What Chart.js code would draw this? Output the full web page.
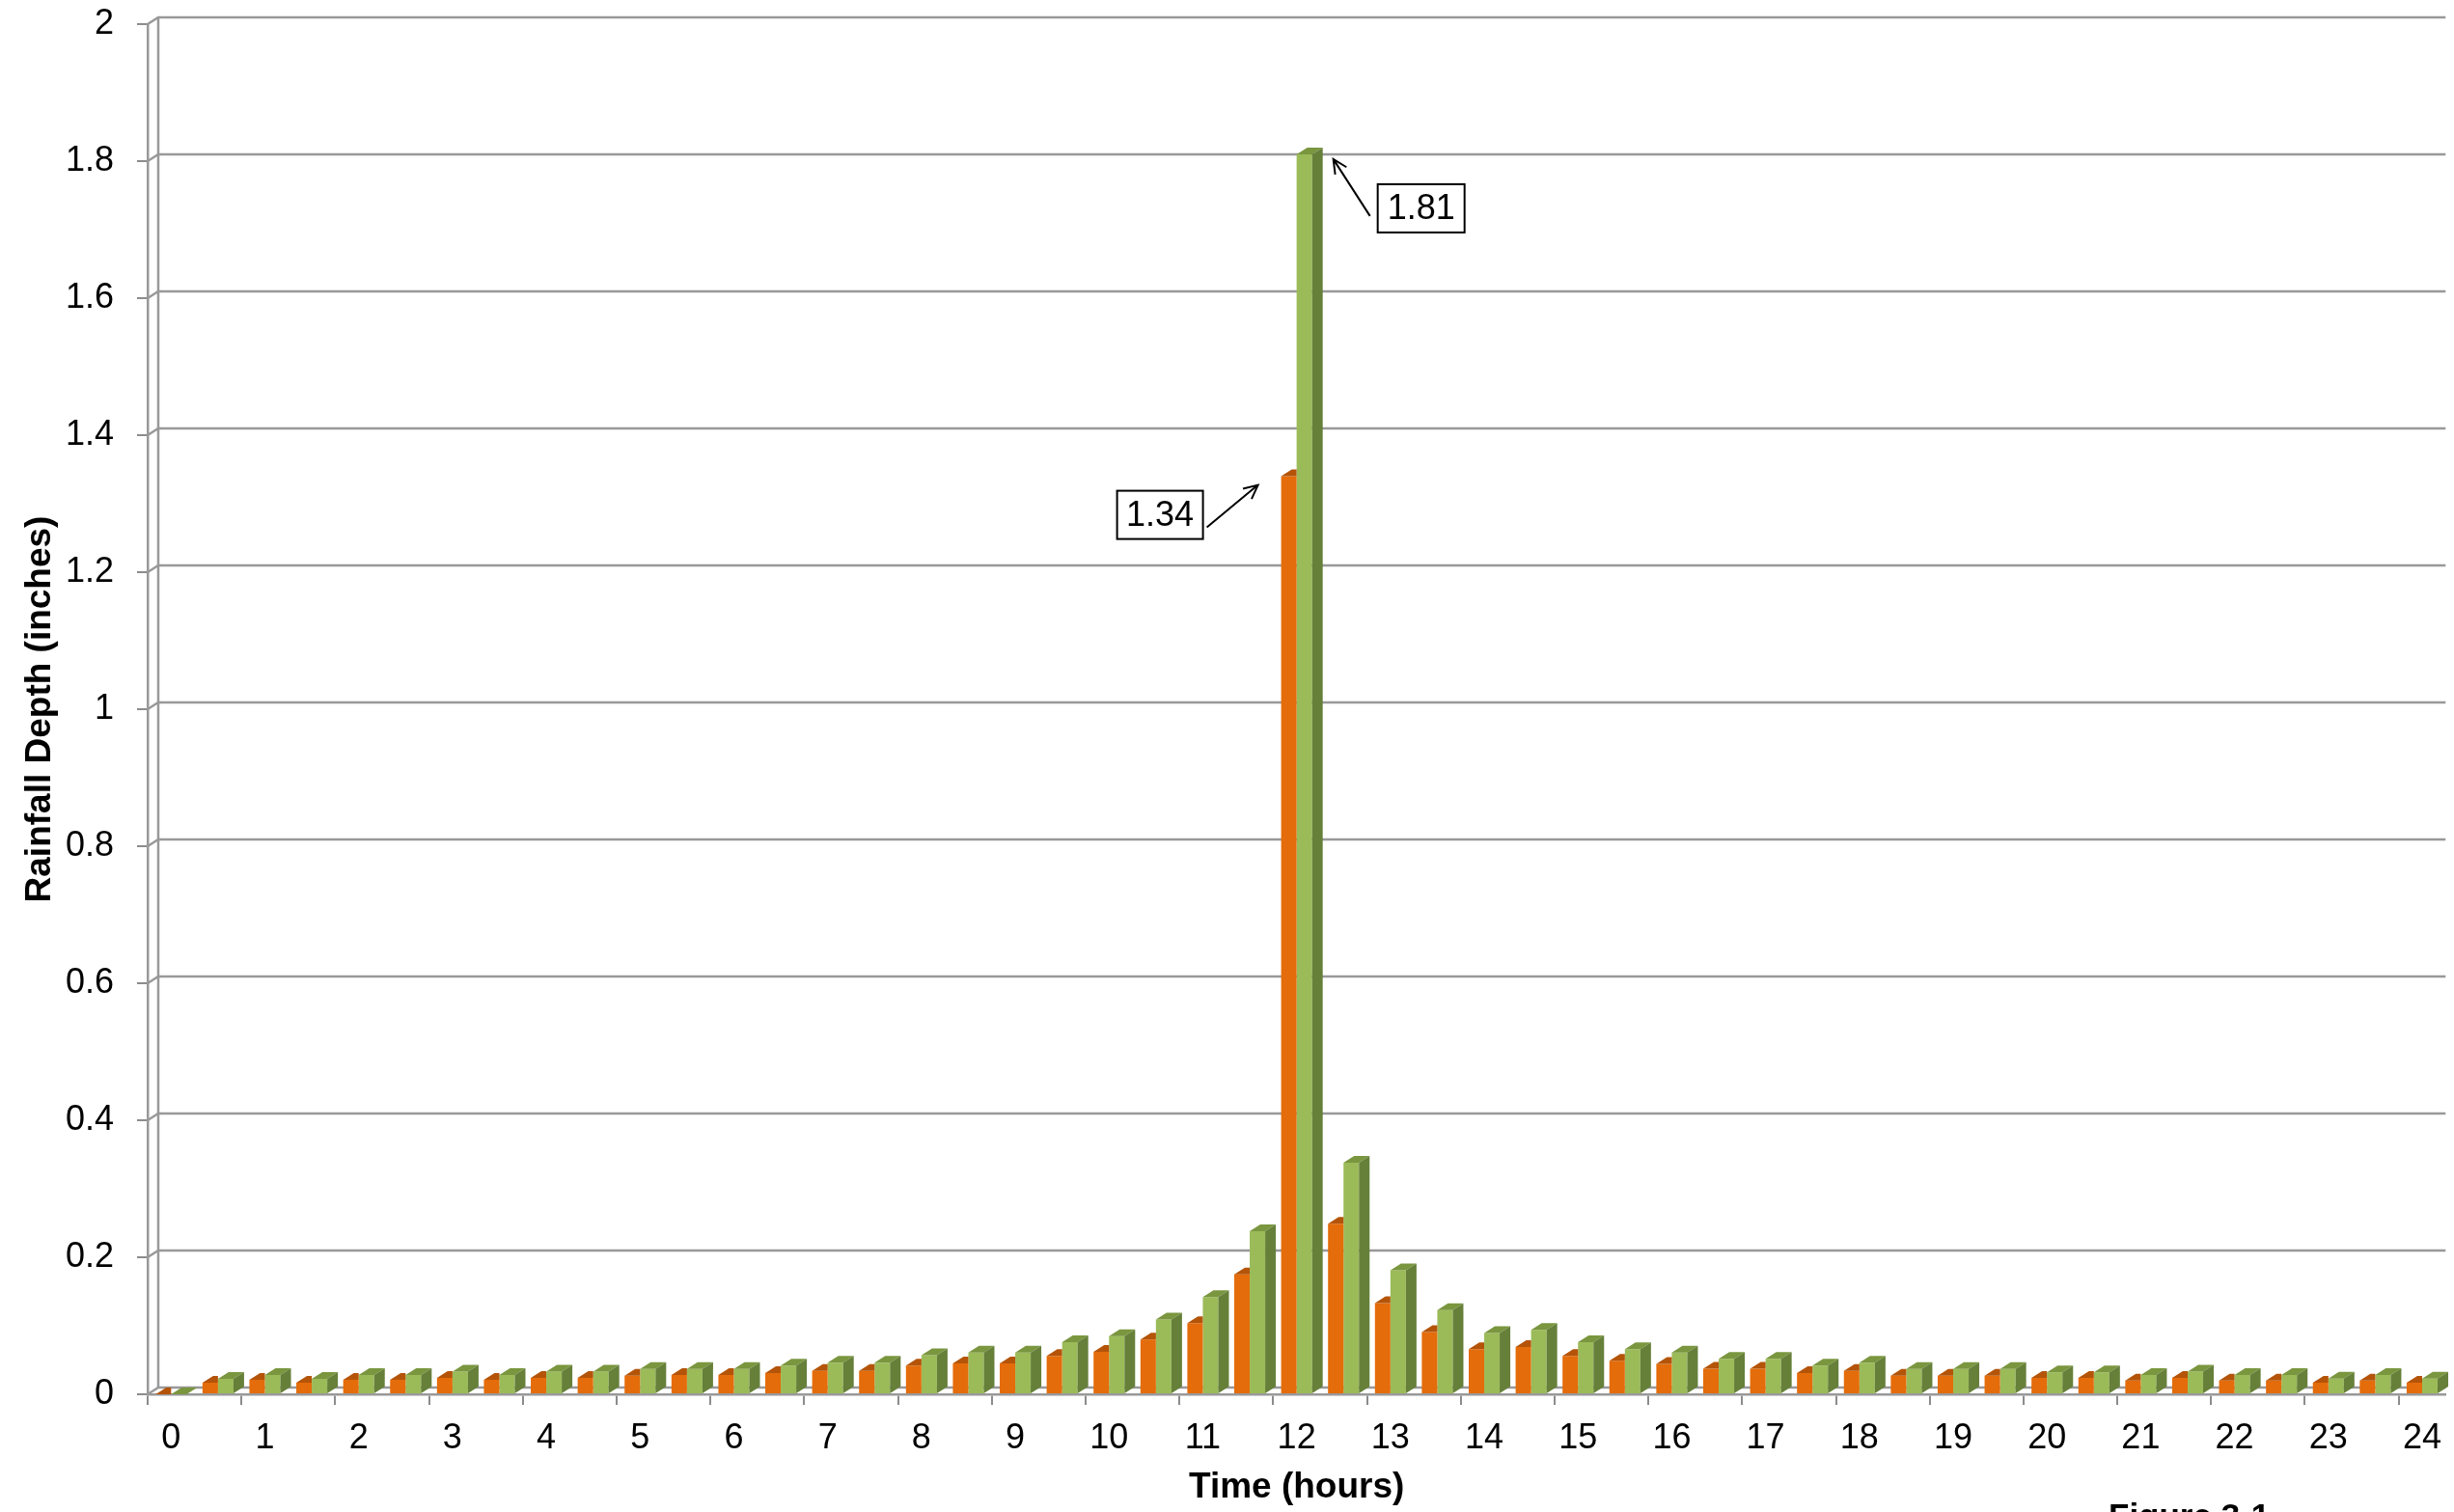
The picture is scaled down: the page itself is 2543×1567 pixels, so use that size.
<!DOCTYPE html>
<html lang="en">
<head>
<meta charset="UTF-8">
<title>Rainfall Depth</title>
<script src="https://cdn.jsdelivr.net/npm/chart.js@4.4.1/dist/chart.umd.min.js"></script>
<style>
    html, body { margin: 0; padding: 0; background: #fff; overflow: hidden; }
    #wrap { width: 2543px; height: 1567px; }
</style>
</head>
<body>
<div id="wrap"><canvas id="rainChart" width="2543" height="1567"></canvas></div>
<script>
    // half-hour steps, labelled on whole hours
    const hours = ['0','0.5','1','1.5','2','2.5','3','3.5','4','4.5','5','5.5','6','6.5','7','7.5',
        '8','8.5','9','9.5','10','10.5','11','11.5','12','12.5','13','13.5','14','14.5','15','15.5',
        '16','16.5','17','17.5','18','18.5','19','19.5','20','20.5','21','21.5','22','22.5','23','23.5','24'];

    const orangeDepth = [0, 0.017, 0.021, 0.017, 0.021, 0.021, 0.024, 0.021, 0.024, 0.024,
        0.027, 0.028, 0.028, 0.031, 0.034, 0.034, 0.042, 0.045, 0.045, 0.056,
        0.062, 0.080, 0.104, 0.175, 1.34, 0.249, 0.133, 0.091, 0.066, 0.069,
        0.056, 0.049, 0.0445, 0.0375, 0.0375, 0.031, 0.034, 0.027, 0.027, 0.027,
        0.024, 0.024, 0.020, 0.024, 0.020, 0.020, 0.017, 0.020, 0.017];

    const greenDepth = [0, 0.0225, 0.028, 0.0225, 0.028, 0.028, 0.033, 0.028, 0.033, 0.033,
        0.037, 0.037, 0.037, 0.042, 0.046, 0.046, 0.057, 0.061, 0.061, 0.076,
        0.085, 0.109, 0.142, 0.238, 1.81, 0.338, 0.181, 0.123, 0.0895, 0.094,
        0.076, 0.066, 0.061, 0.0516, 0.0516, 0.042, 0.046, 0.037, 0.037, 0.037,
        0.032, 0.032, 0.028, 0.033, 0.028, 0.028, 0.023, 0.028, 0.023];

    const yTicks = [0, 0.2, 0.4, 0.6, 0.8, 1, 1.2, 1.4, 1.6, 1.8, 2];

    const FONT = "'Liberation Sans', Arial, sans-serif";
    const GRID = '#999999';
    const DX = 11, DY = 7;   // fake 3d depth

    // back wall: gridlines pushed back, with a short diagonal to the front ticks
    const wallPlugin = {
        id: 'wall',
        beforeDatasetsDraw(chart) {
            const { ctx, chartArea: a, scales: { y } } = chart;
            ctx.save();
            ctx.strokeStyle = GRID;
            ctx.lineWidth = 2.5;
            y.ticks.forEach(t => {
                const py = y.getPixelForValue(t.value);
                ctx.beginPath();
                ctx.moveTo(a.left, py);
                ctx.lineTo(a.left + DX, py - DY);
                ctx.lineTo(a.right, py - DY);
                ctx.stroke();
            });
            ctx.beginPath();
            ctx.moveTo(a.left + DX, a.top - DY);
            ctx.lineTo(a.left + DX, a.bottom - DY);
            ctx.stroke();
            ctx.restore();
        }
    };

    // top and side faces of the bars
    const bar3dPlugin = {
        id: 'bar3d',
        afterDatasetsDraw(chart) {
            const ctx = chart.ctx;
            const faces = [
                { top: '#b45409', side: null },
                { top: '#7a963f', side: '#66803a' }
            ];
            chart.data.datasets.forEach((ds, di) => {
                const meta = chart.getDatasetMeta(di);
                meta.data.forEach(bar => {
                    const { x, y, base, width } = bar.getProps(['x', 'y', 'base', 'width'], true);
                    const l = x - width / 2, r = x + width / 2;
                    ctx.save();
                    ctx.fillStyle = faces[di].top;
                    ctx.beginPath();
                    ctx.moveTo(l, y);
                    ctx.lineTo(r, y);
                    if (faces[di].side) {
                        ctx.lineTo(r + DX, y - DY);
                    } else {
                        ctx.lineTo(r, y - DY);   // rest hidden behind the green bar
                    }
                    ctx.lineTo(l + DX, y - DY);
                    ctx.closePath();
                    ctx.fill();
                    if (faces[di].side) {
                        ctx.fillStyle = faces[di].side;
                        ctx.beginPath();
                        ctx.moveTo(r, y);
                        ctx.lineTo(r + DX, y - DY);
                        ctx.lineTo(r + DX, base - DY);
                        ctx.lineTo(r, base);
                        ctx.closePath();
                        ctx.fill();
                    }
                    ctx.restore();
                });
            });
        }
    };

    function arrow(ctx, x1, y1, x2, y2) {
        const ang = Math.atan2(y2 - y1, x2 - x1), h = 16;
        ctx.beginPath();
        ctx.moveTo(x1, y1);
        ctx.lineTo(x2, y2);
        ctx.moveTo(x2 - h * Math.cos(ang - 0.45), y2 - h * Math.sin(ang - 0.45));
        ctx.lineTo(x2, y2);
        ctx.lineTo(x2 - h * Math.cos(ang + 0.45), y2 - h * Math.sin(ang + 0.45));
        ctx.stroke();
    }

    function labelBox(ctx, x, y, w, h, text) {
        ctx.fillStyle = '#fff';
        ctx.fillRect(x, y, w, h);
        ctx.strokeRect(x, y, w, h);
        ctx.fillStyle = '#000';
        ctx.fillText(text, x + w / 2, y + h / 2 + 1);
    }

    // peak callouts + figure caption
    const calloutPlugin = {
        id: 'callouts',
        afterDraw(chart) {
            const ctx = chart.ctx;
            const peak = greenDepth.indexOf(Math.max(...greenDepth));
            const g = chart.getDatasetMeta(1).data[peak].getProps(['x', 'y', 'width'], true);
            const o = chart.getDatasetMeta(0).data[peak].getProps(['x', 'y', 'width'], true);
            ctx.save();
            ctx.strokeStyle = '#000';
            ctx.lineWidth = 2;
            ctx.font = '36px ' + FONT;
            ctx.textAlign = 'center';
            ctx.textBaseline = 'middle';

            const gr = g.x + g.width / 2;
            arrow(ctx, gr + 60, g.y + 64, gr + 22, g.y + 5);
            labelBox(ctx, gr + 68, g.y + 31, 90, 50, greenDepth[peak].toFixed(2));

            const ol = o.x - o.width / 2;
            arrow(ctx, ol - 77, o.y + 53, ol - 24, o.y + 9);
            labelBox(ctx, ol - 170, o.y + 15, 89, 50, orangeDepth[peak].toFixed(2));

            ctx.font = 'bold 35px ' + FONT;
            ctx.textAlign = 'left';
            ctx.textBaseline = 'alphabetic';
            ctx.fillText('Figure 3-1', 2185, 1583);
            ctx.restore();
        }
    };

    const ctx = document.getElementById('rainChart').getContext('2d');
    const rainChart = new Chart(ctx, {
        type: 'bar',
        data: {
            labels: hours,
            datasets: [
                {
                    label: 'Orange',
                    data: orangeDepth,
                    backgroundColor: '#e46c0a',
                    barPercentage: 1,
                    categoryPercentage: 0.66
                },
                {
                    label: 'Green',
                    data: greenDepth,
                    backgroundColor: '#9bbb59',
                    barPercentage: 1,
                    categoryPercentage: 0.66
                }
            ]
        },
        options: {
            responsive: false,
            animation: false,
            layout: { padding: { top: 25, right: 0, bottom: 0, left: 0 } },
            plugins: {
                legend: { display: false },
                tooltip: { enabled: false }
            },
            scales: {
                x: {
                    offset: true,
                    grid: {
                        offset: true,
                        drawOnChartArea: false,
                        tickLength: 11,
                        lineWidth: 2,
                        color: c => (c.index % 2 === 0 ? '#8c8c8c' : 'rgba(0,0,0,0)')
                    },
                    border: { display: true, color: GRID, width: 2.5 },
                    ticks: {
                        autoSkip: false,
                        maxRotation: 0,
                        padding: 13,
                        color: '#000',
                        font: { family: FONT, size: 36 },
                        callback: (v, i) => (hours[i].includes('.') ? '' : hours[i])
                    },
                    title: {
                        display: true,
                        text: 'Time (hours)',
                        color: '#000',
                        font: { family: FONT, size: 37, weight: 'bold' },
                        padding: { top: 0, bottom: 3 }
                    },
                    afterFit: s => { s.height = 122; }
                },
                y: {
                    min: 0,
                    max: 2,
                    afterBuildTicks: s => { s.ticks = yTicks.map(v => ({ value: v })); },
                    grid: {
                        drawOnChartArea: false,
                        tickLength: 11,
                        lineWidth: 2,
                        color: '#8c8c8c'
                    },
                    border: { display: true, color: GRID, width: 2.5 },
                    ticks: {
                        padding: 24,
                        color: '#000',
                        font: { family: FONT, size: 36 },
                        callback: v => String(+v.toFixed(1))
                    },
                    title: {
                        display: true,
                        text: 'Rainfall Depth (inches)',
                        color: '#000',
                        font: { family: FONT, size: 37, weight: 'bold' },
                        padding: { top: 20, bottom: 0 }
                    },
                    afterFit: s => { s.width = 153; s.paddingTop = 0; s.paddingBottom = 0; }
                }
            }
        },
        plugins: [wallPlugin, bar3dPlugin, calloutPlugin]
    });
</script>
</body>
</html>
